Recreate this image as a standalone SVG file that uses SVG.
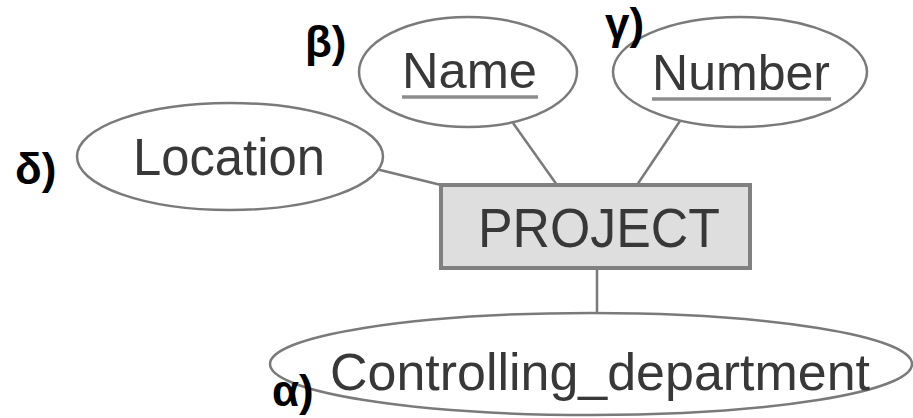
<svg xmlns="http://www.w3.org/2000/svg" width="913" height="418" viewBox="0 0 913 418">
<style>
.attr{fill:#ffffff;stroke:#7a7a7a;stroke-width:2.5}
.ent{fill:#dedede;stroke:#808080;stroke-width:4}
.t{font-family:"Liberation Sans",Arial,sans-serif;fill:#383838}
.ul{stroke:#8c8c8c;stroke-width:3.5}
.conn line{stroke:#7a7a7a;stroke-width:2.5}
.lbl{font-family:"Liberation Sans",Arial,sans-serif;font-weight:bold;font-size:44px;fill:#000}
</style>
<rect width="913" height="418" fill="#ffffff"/>
<g id="connectors" class="conn">
<line x1="513" y1="123" x2="557" y2="185"/>
<line x1="680" y1="121" x2="637" y2="185"/>
<line x1="376" y1="169" x2="441" y2="185"/>
<line x1="597" y1="268" x2="597" y2="313"/>
</g>
<g id="project">
<rect class="ent" x="441" y="185" width="309" height="83"/>
<text class="t" x="478" y="247" font-size="56" textLength="242" lengthAdjust="spacingAndGlyphs">PROJECT</text>
</g>
<g id="name">
<ellipse class="attr" cx="468" cy="72" rx="109" ry="55"/>
<text class="t" x="402" y="88" font-size="50" textLength="135" lengthAdjust="spacingAndGlyphs">Name</text>
<line class="ul" x1="402" y1="97" x2="538" y2="97"/>
</g>
<g id="number">
<ellipse class="attr" cx="740" cy="72" rx="127" ry="55"/>
<text class="t" x="652" y="90" font-size="50" textLength="178" lengthAdjust="spacingAndGlyphs">Number</text>
<line class="ul" x1="652" y1="99" x2="831" y2="99"/>
</g>
<g id="location">
<ellipse class="attr" cx="230" cy="156.5" rx="153" ry="53.5"/>
<text class="t" x="133" y="175" font-size="51" textLength="192" lengthAdjust="spacingAndGlyphs">Location</text>
</g>
<g id="controlling">
<ellipse class="attr" cx="591" cy="364" rx="321" ry="51"/>
<text class="t" x="330" y="390" font-size="52" textLength="540" lengthAdjust="spacingAndGlyphs">Controlling_department</text>
</g>
<g id="labels">
<text class="lbl" x="305" y="57">β)</text>
<text class="lbl" x="605" y="39">γ)</text>
<text class="lbl" x="15" y="184">δ)</text>
<text class="lbl" x="272" y="406">α)</text>
</g>
</svg>
